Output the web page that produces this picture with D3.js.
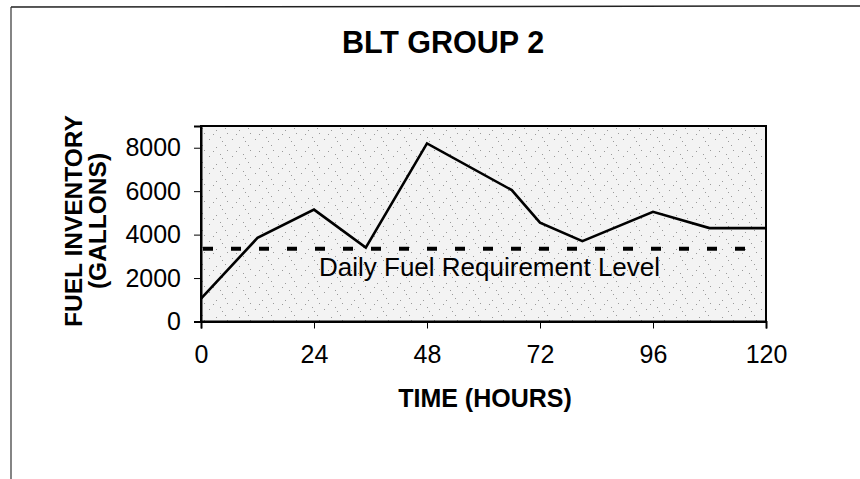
<!DOCTYPE html>
<html lang="en">
<head>
<meta charset="utf-8">
<title>BLT Group 2</title>
<script src="https://cdn.jsdelivr.net/npm/d3@7"></script>
<style>
  body { margin: 0; background: #fff; }
  text { font-family: "Liberation Sans", Arial, sans-serif; fill: #000; }
</style>
</head>
<body>
<script>
// fuel inventory
var hours = [0, 12, 24, 35, 48, 66, 72, 81, 96, 108, 120];
var gallons = [1050, 3850, 5150, 3400, 8200, 6050, 4550, 3700, 5050, 4300, 4300];
var requirementLevel = 3350;
var requirementSpan = [0, 117];
var xTicks = [0, 24, 48, 72, 96, 120];
var yTicks = [0, 2000, 4000, 6000, 8000];

var w = 860, h = 479;
var margin = {top: 126, right: 94, bottom: 158, left: 201};

var svg = d3.select("body").append("svg")
  .attr("width", w)
  .attr("height", h);

// frame of the page (top and left only, as scanned)
svg.append("line").attr("x1", 11).attr("y1", 7).attr("x2", 860).attr("y2", 6)
  .attr("stroke", "#222").attr("stroke-width", 1.5);
svg.append("line").attr("x1", 11).attr("y1", 7).attr("x2", 11).attr("y2", 479)
  .attr("stroke", "#333").attr("stroke-width", 1.2);

var x = d3.scaleLinear().domain([0, 120]).range([margin.left, w - margin.right]);
var y = d3.scaleLinear().domain([0, 9000]).range([h - margin.bottom + 0.5, margin.top]);

// stipple pattern for plot area
var defs = svg.append("defs");
var pat = defs.append("pattern")
  .attr("id", "stipple")
  .attr("width", 23).attr("height", 17)
  .attr("patternUnits", "userSpaceOnUse");
pat.append("rect").attr("width", 23).attr("height", 17).attr("fill", "#f3f3f3");
[[2, 3], [9, 11], [15, 5], [20, 14], [6, 15], [13, 1], [18, 9]].forEach(function(p) {
  pat.append("rect").attr("x", p[0]).attr("y", p[1]).attr("width", 1).attr("height", 1)
    .attr("fill", "#9a9a9a");
});

svg.append("rect")
  .attr("x", x(0)).attr("y", y(9000))
  .attr("width", x(120) - x(0)).attr("height", y(0) - y(9000))
  .attr("fill", "url(#stipple)")
  .attr("stroke", "#000").attr("stroke-width", 2);

// axes
svg.append("g")
  .attr("transform", "translate(0," + y(0) + ")")
  .call(d3.axisBottom(x).tickValues(xTicks).tickSize(7).tickPadding(17))
  .call(function(g) {
    g.select(".domain").attr("stroke-width", 2);
    g.selectAll("text").attr("font-size", "25px");
  });

svg.append("g")
  .attr("transform", "translate(" + x(0) + ",0)")
  .call(d3.axisLeft(y).tickValues(yTicks).tickSize(7).tickPadding(13).tickFormat(d3.format("d")))
  .call(function(g) {
    g.select(".domain").attr("stroke-width", 2);
    g.selectAll("text").attr("font-size", "25px");
  });

// daily requirement line
svg.append("line")
  .attr("x1", x(requirementSpan[0]) + 2).attr("x2", x(requirementSpan[1]))
  .attr("y1", y(requirementLevel)).attr("y2", y(requirementLevel))
  .attr("stroke", "#000").attr("stroke-width", 4)
  .attr("stroke-dasharray", "10,18");

svg.append("text")
  .attr("x", 319).attr("y", 276)
  .attr("font-size", "26px")
  .text("Daily Fuel Requirement Level");

// inventory line
var line = d3.line()
  .x(function(d, i) { return x(hours[i]); })
  .y(function(d) { return y(d); });

svg.append("path")
  .datum(gallons)
  .attr("d", line)
  .attr("fill", "none")
  .attr("stroke", "#000")
  .attr("stroke-width", 2.6)
  .attr("stroke-linejoin", "miter");

// titles
svg.append("text")
  .attr("x", 443).attr("y", 53)
  .attr("text-anchor", "middle")
  .attr("font-size", "30.5px").attr("font-weight", "bold")
  .text("BLT GROUP 2");

svg.append("text")
  .attr("x", 485).attr("y", 407)
  .attr("text-anchor", "middle")
  .attr("font-size", "25px").attr("font-weight", "bold")
  .text("TIME (HOURS)");

svg.append("text")
  .attr("transform", "translate(82,221) rotate(-90)")
  .attr("text-anchor", "middle")
  .attr("font-size", "24.5px").attr("font-weight", "bold")
  .text("FUEL INVENTORY");

svg.append("text")
  .attr("transform", "translate(106,221) rotate(-90)")
  .attr("text-anchor", "middle")
  .attr("font-size", "24.5px").attr("font-weight", "bold")
  .text("(GALLONS)");
</script>
</body>
</html>
